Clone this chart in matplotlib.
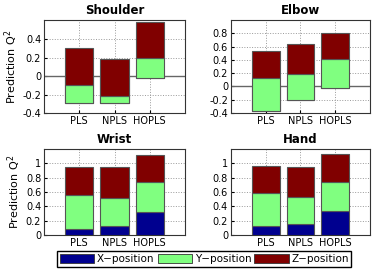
import numpy as np
import matplotlib.pyplot as plt
from matplotlib.patches import Patch

methods = ['PLS', 'NPLS', 'HOPLS']
series = ['X\u2212position', 'Y\u2212position', 'Z\u2212position']
colors = ['#00008f', '#80ff80', '#800000']

# per-joint contributions (X, Y, Z), stacked cumulatively like MATLAB bar(...,'stacked')
shoulder_x = [-0.29, -0.29, -0.015]
shoulder_y = [0.19, 0.08, 0.215]
shoulder_z = [0.41, 0.40, 0.385]

elbow_x = [-0.375, -0.20, -0.025]
elbow_y = [0.50, 0.385, 0.435]
elbow_z = [0.405, 0.45, 0.39]

wrist_x = [0.085, 0.13, 0.315]
wrist_y = [0.475, 0.38, 0.42]
wrist_z = [0.385, 0.435, 0.385]

hand_x = [0.13, 0.155, 0.34]
hand_y = [0.45, 0.37, 0.40]
hand_z = [0.39, 0.43, 0.385]

panels = [
    ('Shoulder', [shoulder_x, shoulder_y, shoulder_z], (-0.4, 0.61), np.arange(-0.4, 0.41, 0.2)),
    ('Elbow', [elbow_x, elbow_y, elbow_z], (-0.4, 1.0), np.arange(-0.4, 0.81, 0.2)),
    ('Wrist', [wrist_x, wrist_y, wrist_z], (0, 1.2), np.arange(0, 1.01, 0.2)),
    ('Hand', [hand_x, hand_y, hand_z], (0, 1.2), np.arange(0, 1.01, 0.2)),
]

boxes = [
    [0.118, 0.583, 0.378, 0.343],
    [0.619, 0.583, 0.373, 0.343],
    [0.118, 0.133, 0.378, 0.317],
    [0.619, 0.133, 0.373, 0.317],
]

fig = plt.figure(figsize=(3.73, 2.71), dpi=100)
pos = np.arange(1, len(methods) + 1)

for i, (name, vals, ylim, yt) in enumerate(panels):
    ax = fig.add_axes(boxes[i])
    bottom = np.zeros(len(methods))
    for v, c in zip(vals, colors):
        v = np.array(v)
        ax.bar(pos, v, 0.8, bottom=bottom, color=c, edgecolor='#555555', linewidth=0.8, zorder=3)
        bottom = bottom + v
    if ylim[0] < 0:
        ax.axhline(0, color='#666666', linewidth=1.0, zorder=2)
    ax.set_xlim(0, 4)
    ax.set_ylim(*ylim)
    ax.set_xticks(pos)
    ax.set_xticklabels(methods)
    ax.set_yticks(yt)
    ax.set_yticklabels(['%g' % round(t, 1) for t in yt])
    ax.grid(True, linestyle=':', color='#999999', linewidth=0.7, zorder=0)
    ax.set_axisbelow(True)
    ax.tick_params(labelsize=7, length=2, pad=2, direction='in')
    for s in ax.spines.values():
        s.set_color('#333333')
        s.set_linewidth(0.8)
    ax.set_title(name, fontsize=8.5, fontweight='bold', pad=4)
    if i % 2 == 0:
        ax.set_ylabel('Prediction Q$^2$', fontsize=8, labelpad=2)

handles = [Patch(facecolor=c, edgecolor='#333333', linewidth=0.6) for c in colors]
fig.legend(handles, series, loc='center', bbox_to_anchor=(0.548, 0.044), ncol=3,
           fontsize=7.5, handlelength=3.3, handleheight=1.0, handletextpad=0.25,
           columnspacing=0.3, borderpad=0.25, borderaxespad=0, fancybox=False,
           edgecolor='black', framealpha=1)

fig.savefig('out.png', dpi=100)
